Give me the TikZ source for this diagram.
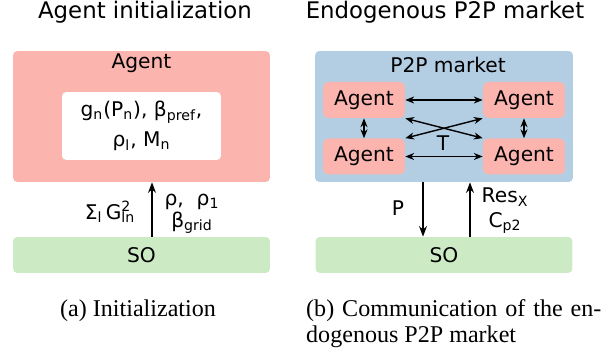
\documentclass[tikz,border=0pt]{standalone}
\usepackage{fontspec}
\setmainfont{DejaVu Sans}
\newfontfamily\capfont{Liberation Serif}
\usetikzlibrary{arrows.meta}
\definecolor{agentpink}{HTML}{FBB4AE}
\definecolor{marketblue}{HTML}{B3CDE3}
\definecolor{sogreen}{HTML}{CCEBC5}
\newcommand{\lo}[1]{\textsubscript{#1}}
\newcommand{\hilo}[2]{\rlap{\textsuperscript{#1}}\textsubscript{#2}}

\begin{document}
\begin{tikzpicture}[x=0.02cm, y=-0.02cm,
    every node/.style={font=\fontsize{11.5}{14}\selectfont},
    box/.style={rectangle, rounded corners=2.5pt, inner sep=0pt},
    bigbox/.style={box, minimum width=5.14cm, minimum height=2.62cm},
    sobox/.style={box, fill=sogreen, minimum width=5.14cm, minimum height=0.72cm},
    smallagent/.style={box, rounded corners=3pt, fill=agentpink, minimum width=1.64cm, minimum height=0.72cm},
    heading/.style={font=\fontsize{13}{16}\selectfont},
    caption/.style={font=\capfont\fontsize{13.7}{14.8}\selectfont},
    flow/.style={-{Stealth[length=6pt,width=4.5pt]}, line width=0.8pt},
    both/.style={{Stealth[length=5pt,width=4pt]}-{Stealth[length=5pt,width=4pt]}, line width=0.8pt}]
    \useasboundingbox (0,0) rectangle (609,354);

    % (a) initialization
    \node[heading, anchor=base] (titleA) at (145,19) {Agent initialization};
    \node[bigbox, fill=agentpink] (agentA) at (141.5,116.5) {};
    \node (agentAname) at (141.5,63) {Agent};
    \node[box, fill=white, minimum width=3.18cm, minimum height=1.36cm, align=center,
        font=\fontsize{11.5}{17}\selectfont] (params) at (141.5,126)
        {g\lo{n}(P\lo{n}), β\lo{pref},\\ρ\lo{l}, M\lo{n}};
    \node[sobox] (soA) at (141.5,255) {SO};
    \coordinate (upA) at (152,0);
    \draw[flow] (soA.north -| upA) -- (agentA.south -| upA);
    \node (gridA) at (110,212) {Σ\lo{l}\,G\hilo{2}{ln}};
    \node[align=center, font=\fontsize{11.5}{12.5}\selectfont] (priceA) at (192,214)
        {ρ,\ \ ρ\lo{1}\\β\lo{grid}};
    \node[caption, anchor=base] (capA) at (138,317) {(a) Initialization};

    % (b) endogenous market
    \node[heading, anchor=base] (titleB) at (445,19) {Endogenous P2P market};
    \node[bigbox, fill=marketblue, minimum width=5.16cm] (market) at (444,116.5) {};
    \node (marketname) at (448,65) {P2P market};
    \node[smallagent] (tl) at (364,100) {Agent};
    \node[smallagent] (tr) at (524,100) {Agent};
    \node[smallagent] (bl) at (364,156.5) {Agent};
    \node[smallagent] (br) at (524,156.5) {Agent};
    \draw[both] (tl) -- (tr);
    \draw[both] (bl) -- (br);
    \draw[both] (tl) -- (bl);
    \draw[both] (tr) -- (br);
    \draw[both] (tl.south east) -- (br.north west);
    \draw[both] (tr.south west) -- (bl.north east);
    \node (trade) at (443,143) {T};
    \node[sobox] (soB) at (444,255) {SO};
    \coordinate (downB) at (423,0);
    \coordinate (upB) at (470,0);
    \draw[flow] (market.south -| downB) -- (soB.north -| downB);
    \draw[flow] (soB.north -| upB) -- (market.south -| upB);
    \node (priceB) at (398,208) {P};
    \node[align=center, font=\fontsize{11.5}{14}\selectfont] (resB) at (505,211)
        {Res\lo{X}\\C\lo{p2}};
    \node[caption, anchor=base west] (capB) at (300,317)
        {\makebox[168pt][s]{(b) Communication of the en-}};
    \node[caption, anchor=base west] (capBtail) at (300,343) {dogenous P2P market};
\end{tikzpicture}
\end{document}
